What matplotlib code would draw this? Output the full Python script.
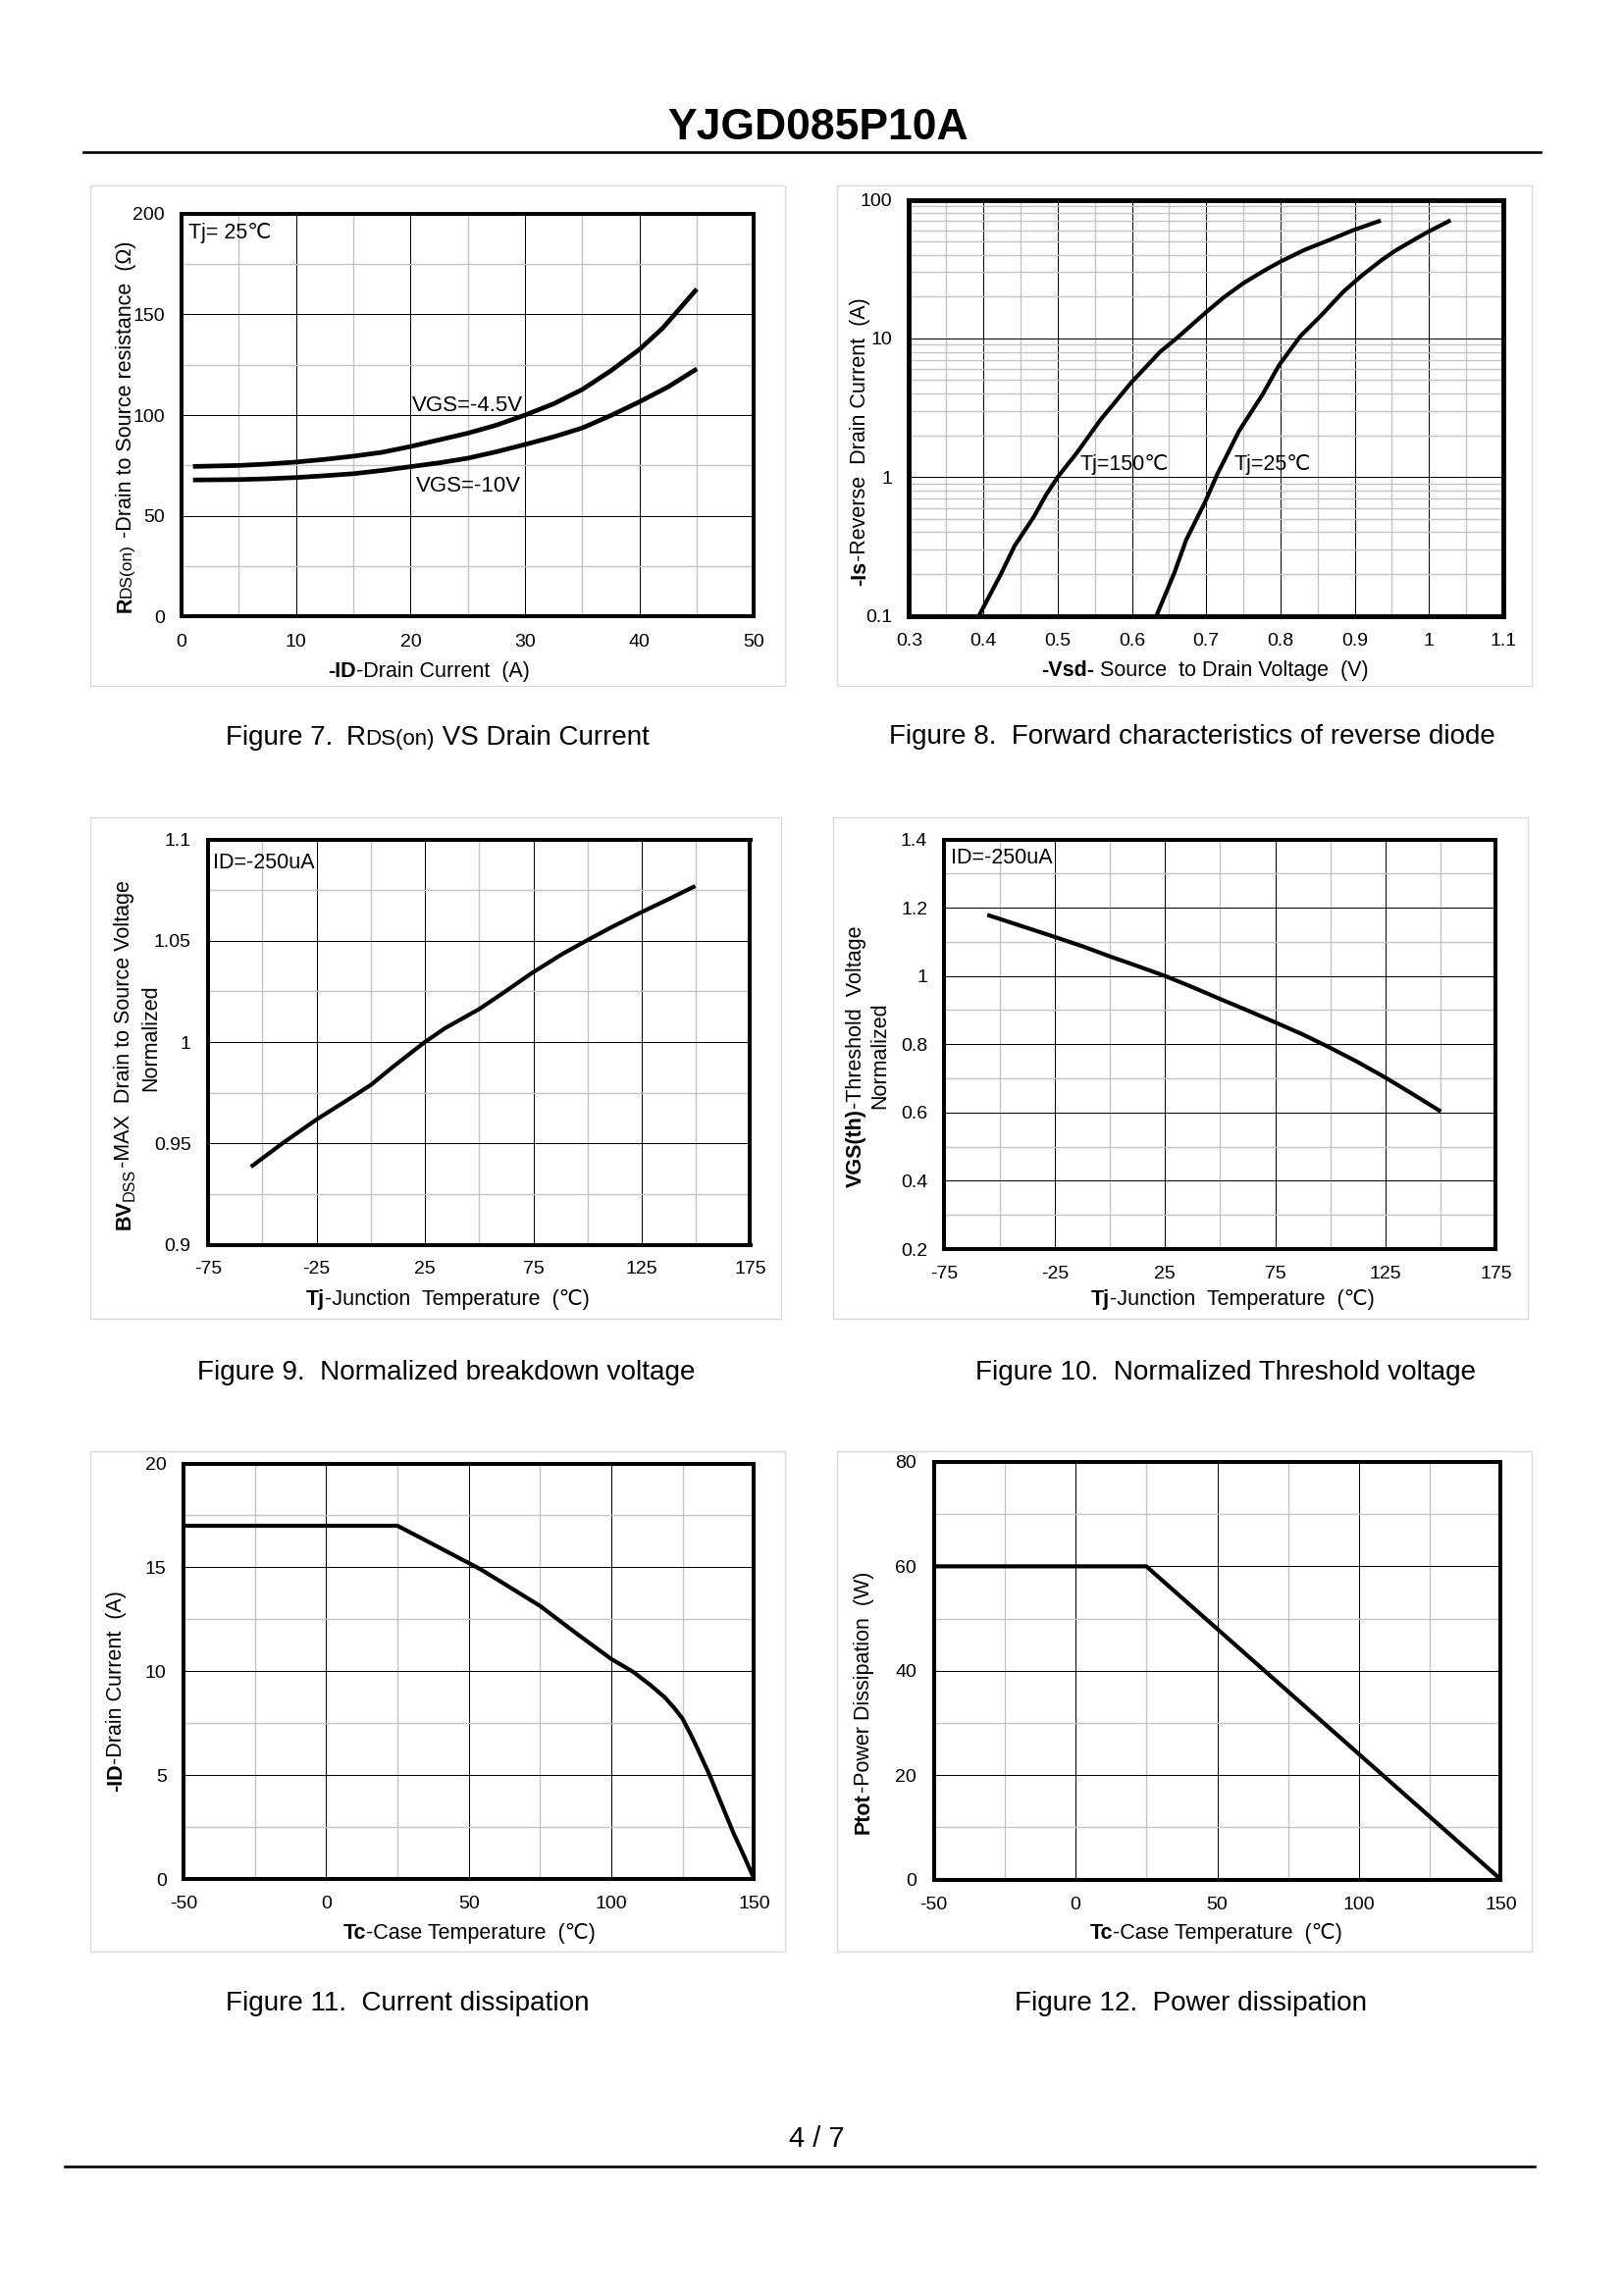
import matplotlib
matplotlib.use("Agg")
import matplotlib.pyplot as plt
from matplotlib.patches import Rectangle
from matplotlib.ticker import MultipleLocator, LogLocator, NullFormatter

plt.rcParams['font.family'] = ['Liberation Sans', 'DejaVu Sans']

W, H = 1656, 2339
BOLD = 'bold'
NORM = 'normal'

# Figure 7
fig7_x_45v = [1, 5, 7.5, 10, 12.5, 15, 17.5, 20, 22.5, 25, 27.5, 30, 32.5, 35, 37.5, 40, 42, 43, 45]
fig7_y_45v = [74.5, 75, 75.7, 76.7, 78, 79.6, 81.5, 84.4, 87.7, 91, 95, 100, 105.6, 112.7, 122, 132.6, 143, 149.5, 162.5]
fig7_x_10v = [1, 5, 7.5, 10, 12.5, 15, 17.5, 20, 22.5, 25, 27.5, 30, 32.5, 35, 37.5, 40, 42.5, 45]
fig7_y_10v = [67.8, 68, 68.4, 69, 69.9, 70.9, 72.5, 74.4, 76.3, 78.6, 81.8, 85.4, 89.2, 93.6, 99.8, 106.6, 114, 122.9]
fig7_xticks = [0, 10, 20, 30, 40, 50]
fig7_yticks = [0, 50, 100, 150, 200]

# Figure 8
fig8_x_150 = [0.394, 0.423, 0.442, 0.468, 0.484, 0.5, 0.526, 0.558, 0.599, 0.638,
              0.66, 0.699, 0.724, 0.75, 0.779, 0.801, 0.833, 0.865, 0.897, 0.935]
fig8_y_150 = [0.1, 0.197, 0.319, 0.518, 0.738, 1.0, 1.5, 2.6, 4.8, 8.0,
              10.0, 15.3, 19.8, 25, 31, 36, 43.6, 51, 60, 70.7]
fig8_x_25 = [0.633, 0.657, 0.673, 0.699, 0.715, 0.744, 0.776, 0.798, 0.827, 0.853,
             0.885, 0.91, 0.936, 0.955, 0.976, 0.997, 1.029]
fig8_y_25 = [0.1, 0.203, 0.352, 0.67, 1.05, 2.14, 3.95, 6.4, 10.4, 14.3,
             21.8, 28.5, 36.6, 43, 50, 58, 71]
fig8_xticks = [0.3, 0.4, 0.5, 0.6, 0.7, 0.8, 0.9, 1.0, 1.1]
fig8_xlabels = ['0.3', '0.4', '0.5', '0.6', '0.7', '0.8', '0.9', '1', '1.1']
fig8_yticks = [0.1, 1, 10, 100]
fig8_ylabels = ['0.1', '1', '10', '100']

# Figure 9
fig9_x = [-55.2, -40.3, -24.9, -7.3, 0.3, 10.2, 25, 34.4, 49.8, 59.7, 74, 88.3,
          100.3, 111.3, 124.5, 137, 149.7]
fig9_y = [0.9384, 0.9503, 0.9618, 0.9737, 0.979, 0.9877, 1.0, 1.0069, 1.0161, 1.0232,
          1.0338, 1.0434, 1.0505, 1.0568, 1.0639, 1.0703, 1.077]
fig9_xticks = [-75, -25, 25, 75, 125, 175]
fig9_yticks = [0.9, 0.95, 1.0, 1.05, 1.1]
fig9_ylabels = ['0.9', '0.95', '1', '1.05', '1.1']

# Figure 10
fig10_x = [-55.6, -40, -25.3, -12, 0.1, 12.5, 25, 37.5, 49.8, 62, 74.6, 87, 99.4, 112, 124.7, 137, 150]
fig10_y = [1.179, 1.146, 1.115, 1.086, 1.057, 1.029, 1.0, 0.967, 0.933, 0.9, 0.865, 0.83, 0.791, 0.749, 0.703, 0.655, 0.603]
fig10_yticks = [0.2, 0.4, 0.6, 0.8, 1.0, 1.2, 1.4]
fig10_ylabels = ['0.2', '0.4', '0.6', '0.8', '1', '1.2', '1.4']

# Figure 11
fig11_x = [-50, 25, 38.3, 54.2, 62.5, 75, 87.6, 99.8, 107.7, 113.5, 118.6, 121.9, 124.9, 127.8, 130,
           134.4, 138.6, 142.8, 146.5, 150]
fig11_y = [17, 17, 16.05, 14.9, 14.2, 13.14, 11.83, 10.6, 9.96, 9.35, 8.75, 8.25, 7.72, 6.95, 6.32,
           5.0, 3.6, 2.2, 1.1, 0]
fig11_xticks = [-50, 0, 50, 100, 150]
fig11_yticks = [0, 5, 10, 15, 20]

# Figure 12
fig12_x = [-50, 25, 150]
fig12_y = [60, 60, 0]
fig12_yticks = [0, 20, 40, 60, 80]

fig = plt.figure(figsize=(W / 100, H / 100), dpi=100, facecolor='white')
renderer = fig.canvas.get_renderer()


def fx(px):
    return px / W


def fy(py):
    return 1 - py / H


def text_width(s, size, weight):
    # bars on both sides so that spaces at the ends are counted
    t = fig.text(0, 0, '|' + s + '|', fontsize=size, fontweight=weight)
    t2 = fig.text(0, 0, '||', fontsize=size, fontweight=weight)
    w = t.get_window_extent(renderer).width - t2.get_window_extent(renderer).width
    t.remove()
    t2.remove()
    return w


def run_text(pieces, size, pos, cross, align='center', vertical=False):
    # pieces = (text, weight, size factor, shift in px below the baseline)
    widths = [text_width(p[0], size * p[2], p[1]) for p in pieces]
    total = sum(widths)
    base = cross + 0.36 * size / 0.72
    if vertical:
        along = pos + total / 2 if align == 'center' else pos
    else:
        along = pos - total / 2 if align == 'center' else pos
    for (s, weight, factor, shift), w in zip(pieces, widths):
        if vertical:
            fig.text(fx(base + shift), fy(along), s, fontsize=size * factor, fontweight=weight,
                     rotation=90, rotation_mode='anchor', ha='left', va='baseline')
            along -= w
        else:
            fig.text(fx(along), fy(base + shift), s, fontsize=size * factor, fontweight=weight,
                     ha='left', va='baseline')
            along += w


def make_axes(box, frame, xlim, ylim, xticks, yticks, xminor, yminor, xlabels=None, ylabels=None,
              xpad=12.5, ypad=12.5, logy=False, spine_width=2.9):
    fig.add_artist(Rectangle((fx(frame[0]), fy(frame[3])), (frame[2] - frame[0]) / W, (frame[3] - frame[1]) / H,
                             transform=fig.transFigure, facecolor='white', edgecolor='#d9d9d9', linewidth=1,
                             zorder=-1))
    left, top, right, bottom = box
    ax = fig.add_axes([fx(left), fy(bottom), (right - left) / W, (bottom - top) / H])
    if logy:
        ax.set_yscale('log')
    ax.set_xlim(xlim)
    ax.set_ylim(ylim)
    ax.set_xticks(xticks)
    ax.set_yticks(yticks)
    ax.set_xticklabels(xlabels if xlabels else [str(v) for v in xticks])
    ax.set_yticklabels(ylabels if ylabels else [str(v) for v in yticks])
    ax.xaxis.set_minor_locator(MultipleLocator(xminor))
    if logy:
        ax.yaxis.set_minor_locator(LogLocator(base=10, subs=[2, 3, 4, 5, 6, 7, 8, 9], numticks=12))
        ax.yaxis.set_minor_formatter(NullFormatter())
    else:
        ax.yaxis.set_minor_locator(MultipleLocator(yminor))
    ax.tick_params(which='both', length=0, labelsize=14)
    ax.tick_params(axis='x', which='major', pad=xpad)
    ax.tick_params(axis='y', which='major', pad=ypad)
    ax.grid(True, which='minor', color='#c4c4c4', linewidth=1.0)
    ax.grid(True, which='major', color='black', linewidth=0.72)
    ax.set_axisbelow(True)
    for spine in ax.spines.values():
        spine.set_linewidth(spine_width)
    return ax


def curve(ax, x, y, lw=3.0):
    ax.plot(x, y, color='black', linewidth=lw, solid_capstyle='butt', solid_joinstyle='round', zorder=3)


LABEL_SIZE = 15.5
NOTE_SIZE = 15.5

# ---- Header and footer ----
fig.text(fx(834), fy(130), 'YJGD085P10A', fontsize=32, fontweight='bold', ha='center', va='center')
fig.add_artist(plt.Line2D([fx(85), fx(1570)], [fy(154.5), fy(154.5)], color='black', linewidth=1.9))
fig.text(fx(832.5), fy(2180), '4 / 7', fontsize=21, ha='center', va='center')
fig.add_artist(plt.Line2D([fx(65.5), fx(1564)], [fy(2208), fy(2208)], color='black', linewidth=1.9))

# ---- Figure 7 ----
ax = make_axes((185, 217.5, 768.5, 628.5), (92.5, 189.5, 800.5, 699.5), (0, 50), (0, 200), fig7_xticks, fig7_yticks, 5, 25)
curve(ax, fig7_x_45v, fig7_y_45v, lw=3.4)
curve(ax, fig7_x_10v, fig7_y_10v, lw=3.4)
ax.text(0.6, 190.4, 'Tj= 25℃', fontsize=NOTE_SIZE, ha='left', va='center')
ax.text(20.1, 104.5, 'VGS=-4.5V', fontsize=16, ha='left', va='center')
ax.text(20.5, 64.5, 'VGS=-10V', fontsize=16, ha='left', va='center')
run_text([('-ID', BOLD, 1, 0), ('-Drain Current  (A)', NORM, 1, 0)], LABEL_SIZE, 437, 682)
run_text([('R', BOLD, 1, 0), ('DS(on)', NORM, 0.8, 0), (' -Drain to Source resistance  (Ω)', NORM, 1, 0)],
         LABEL_SIZE, 435, 126, vertical=True)
run_text([('Figure 7.', NORM, 1, 0), ('  ', NORM, 0.85, 0), ('R', NORM, 1, 0), ('DS(on)', NORM, 0.8, 0),
          (' VS Drain Current', NORM, 1, 0)], 20, 230, 748.5, align='left')

# ---- Figure 8 ----
ax = make_axes((926.5, 203.5, 1532, 627.5), (853.5, 189.5, 1561.5, 699.5), (0.3, 1.1), (0.1, 100), fig8_xticks, fig8_yticks,
               0.05, None, xlabels=fig8_xlabels, ylabels=fig8_ylabels, logy=True, spine_width=3.5)
curve(ax, fig8_x_150, fig8_y_150)
curve(ax, fig8_x_25, fig8_y_25)
ax.text(0.53, 1.22, 'Tj=150℃', fontsize=NOTE_SIZE, ha='left', va='center')
ax.text(0.737, 1.22, 'Tj=25℃', fontsize=NOTE_SIZE, ha='left', va='center')
run_text([('-Vsd-', BOLD, 1, 0), (' Source  to Drain Voltage  (V)', NORM, 1, 0)], LABEL_SIZE, 1228, 681.5)
run_text([('-Is', BOLD, 1, 0), ('-Reverse  Drain Current  (A)', NORM, 1, 0)], LABEL_SIZE, 450, 874, vertical=True)
run_text([('Figure 8.  Forward characteristics of reverse diode', NORM, 1, 0)], 19.95, 906.5, 748.5, align='left')

# ---- Figure 9 ----
ax = make_axes((212, 855.5, 764.5, 1268.5), (92.5, 833, 796.5, 1344), (-75, 175), (0.9, 1.1), fig9_xticks, fig9_yticks,
               25, 0.025, ylabels=fig9_ylabels, xpad=11.8)
curve(ax, fig9_x, fig9_y)
ax.text(-72.8, 1.0882, 'ID=-250uA', fontsize=NOTE_SIZE, ha='left', va='center')
run_text([('Tj', BOLD, 1, 0), ('-Junction  Temperature  (℃)', NORM, 1, 0)], LABEL_SIZE, 456, 1322.5)
run_text([('BV', BOLD, 1, 0), ('DSS', NORM, 0.75, 4), ('-MAX  Drain to Source Voltage', NORM, 1, 0)],
         LABEL_SIZE, 1075.5, 124.5, vertical=True)
run_text([('Normalized', NORM, 1, 0)], LABEL_SIZE, 1057.5, 151.5, vertical=True)
run_text([('Figure 9.  Normalized breakdown voltage', NORM, 1, 0)], 20.1, 201, 1395.5, align='left')

# ---- Figure 10 ----
ax = make_axes((962.5, 855.5, 1524.5, 1273), (849.5, 832.5, 1557.5, 1344), (-75, 175), (0.2, 1.4), fig9_xticks, fig10_yticks,
               25, 0.1, ylabels=fig10_ylabels)
curve(ax, fig10_x, fig10_y)
ax.text(-72.2, 1.345, 'ID=-250uA', fontsize=NOTE_SIZE, ha='left', va='center')
run_text([('Tj', BOLD, 1, 0), ('-Junction  Temperature  (℃)', NORM, 1, 0)], LABEL_SIZE, 1256.5, 1322.5)
run_text([('VGS(th)', BOLD, 1, 0), ('-Threshold  Voltage', NORM, 1, 0)], LABEL_SIZE, 1077, 870, vertical=True)
run_text([('Normalized', NORM, 1, 0)], LABEL_SIZE, 1076, 894.5, vertical=True)
run_text([('Figure 10.  Normalized Threshold voltage', NORM, 1, 0)], 20.05, 994, 1395.5, align='left')

# ---- Figure 11 ----
ax = make_axes((187, 1491.5, 768.5, 1915), (92.5, 1478.5, 800.5, 1988.5), (-50, 150), (0, 20), fig11_xticks, fig11_yticks,
               25, 2.5)
curve(ax, fig11_x, fig11_y)
run_text([('Tc', BOLD, 1, 0), ('-Case Temperature  (℃)', NORM, 1, 0)], LABEL_SIZE, 478, 1968.5)
run_text([('-ID', BOLD, 1, 0), ('-Drain Current  (A)', NORM, 1, 0)], LABEL_SIZE, 1723.5, 116.5, vertical=True)
run_text([('Figure 11.  Current dissipation', NORM, 1, 0)], 20.1, 230, 2038.5, align='left')

# ---- Figure 12 ----
ax = make_axes((951.5, 1490, 1529.5, 1915.5), (853.5, 1478.5, 1561.5, 1988.5), (-50, 150), (0, 80), fig11_xticks, fig12_yticks,
               25, 10)
curve(ax, fig12_x, fig12_y)
run_text([('Tc', BOLD, 1, 0), ('-Case Temperature  (℃)', NORM, 1, 0)], LABEL_SIZE, 1239.5, 1968.5)
run_text([('Ptot', BOLD, 1, 0), ('-Power Dissipation  (W)', NORM, 1, 0)], LABEL_SIZE, 1735.5, 878, vertical=True)
run_text([('Figure 12.  Power dissipation', NORM, 1, 0)], 20.1, 1033.5, 2038.5, align='left')

fig.savefig('out.png', dpi=100, facecolor='white')
